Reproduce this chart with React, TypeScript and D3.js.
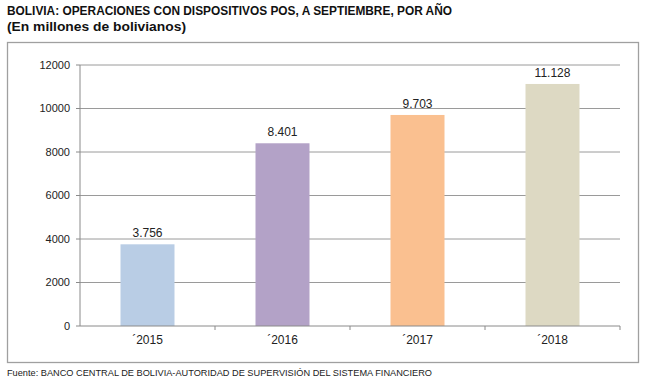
import React from "react";
import * as d3 from "d3";

const categories = ["´2015", "´2016", "´2017", "´2018"];
const values = [3756, 8401, 9703, 11128];
const valueLabels = ["3.756", "8.401", "9.703", "11.128"];
const colors = ["#b9cde5", "#b3a2c7", "#fac090", "#ddd9c3"];
const yTicks = [0, 2000, 4000, 6000, 8000, 10000, 12000];

const W = 650;
const H = 382;
const plot = { left: 80, right: 620, top: 65, bottom: 326 };

export default function App() {
  const x = d3
    .scaleBand<string>()
    .domain(categories)
    .range([plot.left, plot.right])
    .paddingInner(0.6)
    .paddingOuter(0.3);
  const band = d3.scaleBand<string>().domain(categories).range([plot.left, plot.right]);
  const y = d3.scaleLinear().domain([0, 12000]).range([plot.bottom, plot.top]);
  const font = "Liberation Sans, Arial, sans-serif";

  return (
    <svg
      width={W}
      height={H}
      style={{ position: "absolute", left: 0, top: 0, background: "#fff" }}
      fontFamily={font}
    >
      <text x={7} y={15} fontSize={13} fontWeight="bold" fill="#111" textLength={445} lengthAdjust="spacingAndGlyphs">
        BOLIVIA: OPERACIONES CON DISPOSITIVOS POS, A SEPTIEMBRE, POR AÑO
      </text>
      <text x={7} y={31} fontSize={13} fontWeight="bold" fill="#111" textLength={179} lengthAdjust="spacingAndGlyphs">
        (En millones de bolivianos)
      </text>
      <rect x={7.5} y={42.5} width={631} height={320} fill="none" stroke="#a0a0a0" strokeWidth={1.3} />

      {yTicks.map((t) => (
        <g key={t}>
          {t > 0 && (
            <line x1={plot.left} x2={plot.right} y1={y(t)} y2={y(t)} stroke="#9a9a9a" strokeWidth={1} />
          )}
          <line x1={plot.left - 4} x2={plot.left} y1={y(t)} y2={y(t)} stroke="#8a8a8a" />
          <text x={plot.left - 10} y={y(t)} dy="0.35em" textAnchor="end" fontSize={11} fill="#222">
            {t}
          </text>
        </g>
      ))}
      <line x1={plot.left} x2={plot.left} y1={plot.top} y2={plot.bottom} stroke="#8a8a8a" />

      {categories.map((c, i) => (
        <g key={c}>
          <rect
            x={x(c)!}
            y={y(values[i])}
            width={x.bandwidth()}
            height={plot.bottom - y(values[i])}
            fill={colors[i]}
          />
          <text
            x={x(c)! + x.bandwidth() / 2}
            y={y(values[i]) - 7}
            textAnchor="middle"
            fontSize={12}
            fill="#222"
          >
            {valueLabels[i]}
          </text>
          <text
            x={band(c)! + band.bandwidth() / 2}
            y={plot.bottom + 18}
            textAnchor="middle"
            fontSize={12}
            fill="#222"
          >
            {c}
          </text>
          <line
            x1={band(c)! + band.bandwidth()}
            x2={band(c)! + band.bandwidth()}
            y1={plot.bottom}
            y2={plot.bottom + 4}
            stroke="#8a8a8a"
          />
        </g>
      ))}
      <line x1={plot.left} x2={plot.right} y1={plot.bottom} y2={plot.bottom} stroke="#8a8a8a" />

      <text x={7} y={376} fontSize={9} fill="#222" textLength={425} lengthAdjust="spacingAndGlyphs">
        Fuente: BANCO CENTRAL DE BOLIVIA-AUTORIDAD DE SUPERVISIÓN DEL SISTEMA FINANCIERO
      </text>
    </svg>
  );
}
